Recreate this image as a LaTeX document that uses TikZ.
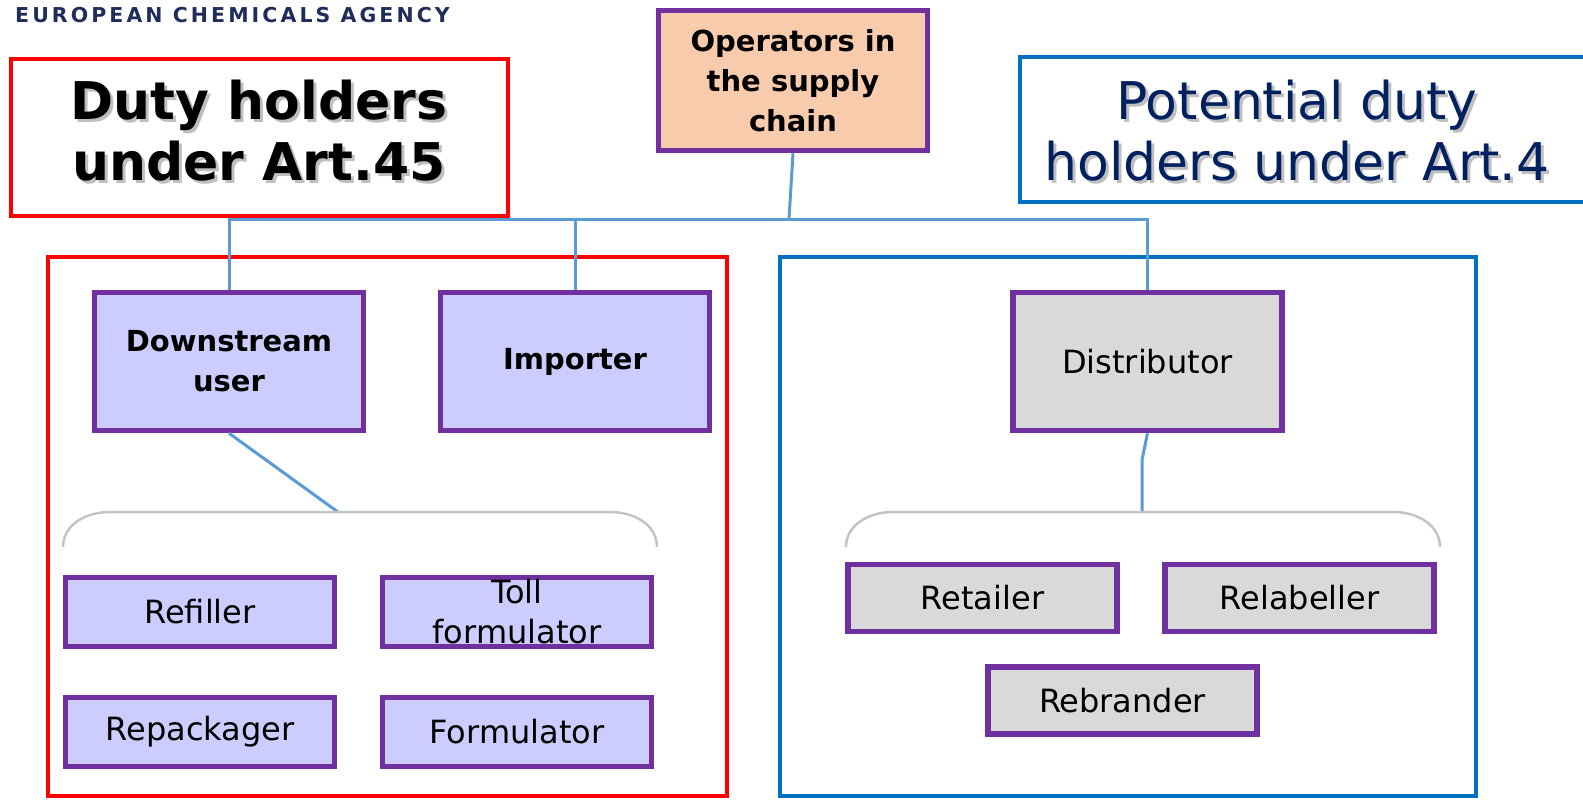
\documentclass[tikz,border=0pt]{standalone}
\usepackage{fontspec}
\setmainfont{DejaVu Sans}
\definecolor{echanavy}{HTML}{1F2D5A}
\definecolor{titlenavy}{HTML}{002060}
\definecolor{artblue}{HTML}{0070C0}
\definecolor{artred}{HTML}{FF0000}
\definecolor{boxpurple}{HTML}{7030A0}
\definecolor{lavender}{HTML}{CCCCFF}
\definecolor{greybox}{HTML}{D9D9D9}
\definecolor{peach}{HTML}{F8CBAD}
\definecolor{linkblue}{HTML}{5B9BD5}
\definecolor{bracegrey}{HTML}{C4C4C4}
\begin{document}
\begin{tikzpicture}[x=1pt,y=-1pt,
  box/.style={draw=boxpurple, line width=5.5pt, inner sep=0pt, align=center},
  bigbox/.style={box, minimum width=269pt, minimum height=138pt, font=\fontsize{29}{40}\selectfont},
  smallbox/.style={box, minimum width=269pt, minimum height=69pt, font=\fontsize{32}{40}\selectfont},
  frame/.style={draw, line width=4pt, inner sep=0pt},
  link/.style={draw=linkblue, line width=3pt},
  brace/.style={draw=bracegrey, line width=2.5pt},
  title/.style={align=center, font=\fontsize{52}{61}\selectfont}]
\useasboundingbox (0,0) rectangle (1583,807);
\node[anchor=west, text=echanavy, inner sep=0pt, font=\fontsize{20.5}{21}\selectfont\bfseries\addfontfeatures{LetterSpace=15}] (echa) at (15,15) {EUROPEAN CHEMICALS AGENCY};
\node[frame, draw=artred, minimum width=497pt, minimum height=157pt] (duty) at (259,137) {};
\node[title, text=black!25] at (262,134) {\bfseries Duty holders\\\bfseries under Art.45};
\node[title] (dutytext) at (259,131) {\bfseries Duty holders\\\bfseries under Art.45};
\node[frame, draw=artblue, minimum width=600pt, minimum height=145pt] (pot) at (1320,129) {};
\node[title, text=black!25] at (1300,134) {Potential duty\\holders under Art.4};
\node[title, text=titlenavy] (pottext) at (1297,131) {Potential duty\\holders under Art.4};
\node[frame, draw=artred, minimum width=679pt, minimum height=539pt] (art45) at (387,526) {};
\node[frame, draw=artblue, minimum width=696pt, minimum height=539pt] (art4) at (1127.5,526) {};
\node[box, fill=peach, minimum width=269pt, minimum height=140pt, font=\fontsize{29}{40}\selectfont\bfseries] (ops) at (793,80.5) {Operators in\\the supply\\chain};
\node[bigbox, fill=lavender, font=\fontsize{29}{40}\selectfont\bfseries] (du) at (229,361.5) {Downstream\\user};
\node[bigbox, fill=lavender, font=\fontsize{29}{40}\selectfont\bfseries] (imp) at (575,361.5) {Importer};
\node[bigbox, fill=greybox, font=\fontsize{32}{40}\selectfont] (dist) at (1147.5,361.5) {Distributor};
\node[smallbox, fill=lavender] (refill) at (200,612) {Refiller};
\node[smallbox, fill=lavender] (toll) at (517,612) {Toll\\formulator};
\node[smallbox, fill=lavender] (repack) at (200,732) {Repackager};
\node[smallbox, fill=lavender] (form) at (517,732) {Formulator};
\node[smallbox, fill=greybox, minimum height=67pt] (retail) at (982.5,598) {Retailer};
\node[smallbox, fill=greybox, minimum height=67pt] (relab) at (1299.5,598) {Relabeller};
\node[smallbox, fill=greybox, minimum height=67pt] (rebrand) at (1122.5,700.5) {Rebrander};
\coordinate (j) at (789,219);
\coordinate (lb) at (338,512);
\coordinate (rb) at (1142,512);
\coordinate (bend) at (1142,460);
\draw[link] (ops.south) -- (j);
\draw[link] (du.north) |- (j) -| (dist.north);
\draw[link] (imp.north) -- (imp.north |- j);
\draw[link] (du.south) -- (lb);
\draw[link] (dist.south) -- (bend) -- (rb);
\draw[brace] (63,547) .. controls (63,526) and (84,512) .. (110,512) -- (610,512) .. controls (636,512) and (657,526) .. (657,547);
\draw[brace] (846,547) .. controls (846,526) and (867,512) .. (893,512) -- (1393,512) .. controls (1419,512) and (1440,526) .. (1440,547);
\end{tikzpicture}
\end{document}
